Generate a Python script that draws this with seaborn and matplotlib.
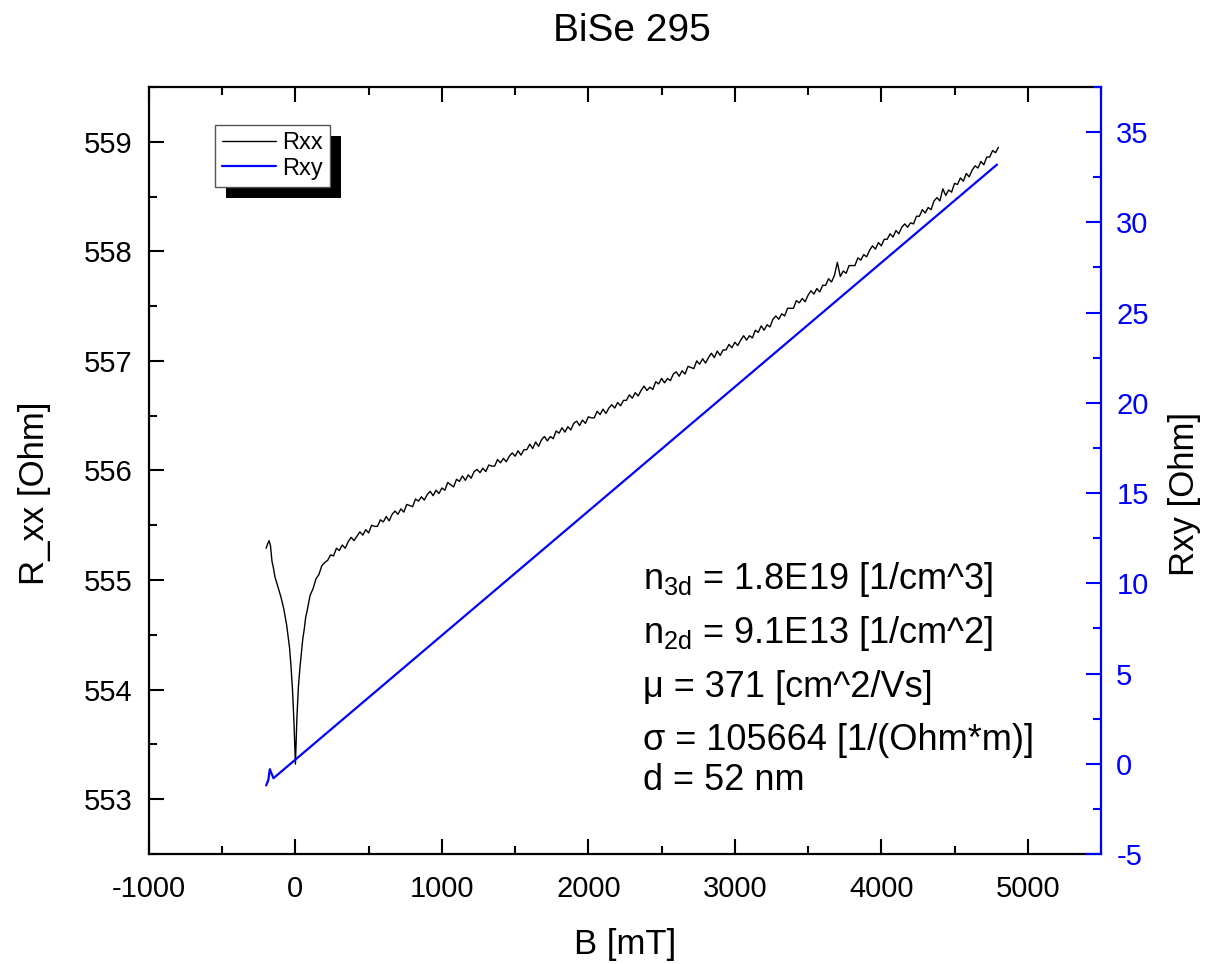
import matplotlib
matplotlib.use("Agg")
import matplotlib.pyplot as plt
from matplotlib.patches import Rectangle
from matplotlib.ticker import MultipleLocator
import seaborn as sns
import pandas as pd

# Longitudinal resistance sweep: field (mT) and R_xx (Ohm)
field_xx = [
    -200, -190, -180, -170, -160, -150, -140, -120, -100, -80, -60, -40, -30,
    -20, -10, 0, 10, 20, 30, 40, 50, 60, 70, 80, 100, 120, 140, 160, 180, 200,
    220, 240, 260, 280, 300, 320, 340, 360, 380, 400, 420, 440, 460, 480, 500,
    520, 540, 560, 580, 600, 620, 640, 660, 680, 700, 720, 740, 760, 780, 800,
    820, 840, 860, 880, 900, 920, 940, 960, 980, 1000, 1020, 1040, 1060, 1080,
    1100, 1120, 1140, 1160, 1180, 1200, 1220, 1240, 1260, 1280, 1300, 1320,
    1340, 1360, 1380, 1400, 1420, 1440, 1460, 1480, 1500, 1520, 1540, 1560,
    1580, 1600, 1620, 1640, 1660, 1680, 1700, 1720, 1740, 1760, 1780, 1800,
    1820, 1840, 1860, 1880, 1900, 1920, 1940, 1960, 1980, 2000, 2020, 2040,
    2060, 2080, 2100, 2120, 2140, 2160, 2180, 2200, 2220, 2240, 2260, 2280,
    2300, 2320, 2340, 2360, 2380, 2400, 2420, 2440, 2460, 2480, 2500, 2520,
    2540, 2560, 2580, 2600, 2620, 2640, 2660, 2680, 2700, 2720, 2740, 2760,
    2780, 2800, 2820, 2840, 2860, 2880, 2900, 2920, 2940, 2960, 2980, 3000,
    3020, 3040, 3060, 3080, 3100, 3120, 3140, 3160, 3180, 3200, 3220, 3240,
    3260, 3280, 3300, 3320, 3340, 3360, 3380, 3400, 3420, 3440, 3460, 3480,
    3500, 3520, 3540, 3560, 3580, 3600, 3620, 3640, 3660, 3680, 3700, 3720,
    3740, 3760, 3780, 3800, 3820, 3840, 3860, 3880, 3900, 3920, 3940, 3960,
    3980, 4000, 4020, 4040, 4060, 4080, 4100, 4120, 4140, 4160, 4180, 4200,
    4220, 4240, 4260, 4280, 4300, 4320, 4340, 4360, 4380, 4400, 4420, 4440,
    4460, 4480, 4500, 4520, 4540, 4560, 4580, 4600, 4620, 4640, 4660, 4680,
    4700, 4720, 4740, 4760, 4780, 4800,
]
rxx = [
    555.29, 555.33, 555.36, 555.31, 555.17, 555.11, 555.03, 554.94, 554.85,
    554.74, 554.59, 554.38, 554.21, 554.00, 553.70, 553.32, 553.74, 554.02,
    554.19, 554.33, 554.46, 554.55, 554.66, 554.72, 554.86, 554.92, 555.01,
    555.05, 555.13, 555.16, 555.18,
    555.23, 555.22, 555.29, 555.27, 555.32, 555.29, 555.35, 555.39, 555.36,
    555.40, 555.44, 555.41, 555.46, 555.43, 555.50, 555.49, 555.49, 555.55,
    555.53, 555.58, 555.54, 555.60, 555.63, 555.60, 555.65, 555.62, 555.69,
    555.68, 555.67, 555.74, 555.72, 555.76, 555.73, 555.78, 555.81, 555.77,
    555.82, 555.79, 555.84, 555.82, 555.89, 555.87, 555.85, 555.92, 555.90,
    555.95, 555.91, 555.96, 555.93, 555.99, 556.01, 555.98, 556.02, 555.99,
    556.05, 556.04, 556.04, 556.10, 556.07, 556.11, 556.08, 556.13, 556.16,
    556.13, 556.18, 556.14, 556.19, 556.19, 556.24, 556.20, 556.26, 556.22,
    556.28, 556.31, 556.27, 556.31, 556.29, 556.36, 556.34, 556.39, 556.35,
    556.40, 556.37, 556.43, 556.45, 556.41, 556.46, 556.43, 556.49, 556.48,
    556.48, 556.54, 556.51, 556.56, 556.52, 556.57, 556.60, 556.57, 556.62,
    556.59, 556.64, 556.64, 556.69, 556.66, 556.71, 556.68, 556.73, 556.77,
    556.73, 556.76, 556.74, 556.81, 556.79, 556.84, 556.80, 556.84, 556.82,
    556.88, 556.90, 556.86, 556.91, 556.88, 556.95, 556.94, 556.93, 557.00,
    556.97, 557.02, 556.98, 557.03, 557.07, 557.03, 557.09, 557.05, 557.10,
    557.10, 557.15, 557.12, 557.17, 557.14, 557.19, 557.23, 557.19, 557.23,
    557.21, 557.28, 557.26, 557.32, 557.28, 557.33, 557.31, 557.38, 557.41,
    557.38, 557.43, 557.41, 557.48, 557.48, 557.48, 557.55, 557.53, 557.57,
    557.54, 557.60, 557.64, 557.61, 557.66, 557.63, 557.69, 557.69, 557.75,
    557.72, 557.78, 557.90, 557.77, 557.82, 557.80, 557.87, 557.87, 557.87,
    557.94, 557.92, 557.97, 557.95, 558.01, 558.05, 558.02, 558.08, 558.05,
    558.11, 558.11, 558.16, 558.13, 558.19, 558.16, 558.22, 558.25, 558.22,
    558.26, 558.25, 558.32, 558.32, 558.38, 558.35, 558.40, 558.38, 558.46,
    558.49, 558.46, 558.57, 558.51, 558.56, 558.54, 558.62, 558.61, 558.67,
    558.64, 558.71, 558.68, 558.74, 558.78, 558.76, 558.82, 558.79, 558.86,
    558.86, 558.92, 558.90, 558.95,
]

# Hall resistance sweep: field (mT) and R_xy (Ohm)
field_xy = [-200, -185, -175, -150, 4790]
rxy = [-1.2, -0.9, -0.3, -0.8, 33.2]

title = "BiSe 295"
x_label = "B [mT]"
y_label_left = "R_xx [Ohm]"
y_label_right = "Rxy [Ohm]"
series_names = ["Rxx", "Rxy"]
fit_lines = [
    r"n$_{\mathrm{3d}}$ = 1.8E19 [1/cm^3]",
    r"n$_{\mathrm{2d}}$ = 9.1E13 [1/cm^2]",
    "\u03bc = 371 [cm^2/Vs]",
    "\u03c3 = 105664 [1/(Ohm*m)]",
    "d = 52 nm",
]

sns.set_style("ticks")
plt.rcParams["font.family"] = ["Liberation Sans", "DejaVu Sans"]
plt.rcParams["mathtext.fontset"] = "custom"
plt.rcParams["mathtext.rm"] = "Liberation Sans"
plt.rcParams["mathtext.it"] = "Liberation Sans:italic"
plt.rcParams["mathtext.bf"] = "Liberation Sans:bold"
plt.rcParams["axes.unicode_minus"] = False
for key in ["text.color", "axes.labelcolor", "xtick.color", "ytick.color"]:
    plt.rcParams[key] = "black"

BLUE = "#0000ff"
fig = plt.figure(figsize=(12.19, 9.64), dpi=100)
ax = fig.add_axes([0.1222, 0.1141, 0.7810, 0.7957])
ax2 = ax.twinx()

df_xx = pd.DataFrame({"B": field_xx, "R": rxx})
df_xy = pd.DataFrame({"B": field_xy, "R": rxy})
sns.lineplot(data=df_xx, x="B", y="R", ax=ax, color="black", lw=1.0,
             estimator=None, sort=False, legend=False)
sns.lineplot(data=df_xy, x="B", y="R", ax=ax2, color=BLUE, lw=1.6,
             estimator=None, sort=False, legend=False)

ax.set_xlim(-1000, 5500)
ax.set_ylim(552.5, 559.5)
ax2.set_ylim(-5, 37.5)

ax.xaxis.set_major_locator(MultipleLocator(1000))
ax.xaxis.set_minor_locator(MultipleLocator(500))
ax.yaxis.set_major_locator(MultipleLocator(1))
ax.yaxis.set_minor_locator(MultipleLocator(0.5))
ax2.yaxis.set_major_locator(MultipleLocator(5))
ax2.yaxis.set_minor_locator(MultipleLocator(2.5))
ax.set_yticks([553, 554, 555, 556, 557, 558, 559])

for s in ["left", "top", "bottom"]:
    ax.spines[s].set_linewidth(1.6)
    ax.spines[s].set_color("black")
ax.spines["right"].set_visible(False)
for s in ["left", "top", "bottom"]:
    ax2.spines[s].set_visible(False)
ax2.spines["right"].set_color(BLUE)
ax2.spines["right"].set_linewidth(1.6)

ax.tick_params(axis="x", which="both", direction="in", top=True, bottom=True,
               width=1.5, labelsize=21, pad=15, colors="black")
ax.tick_params(axis="x", which="major", length=11)
ax.tick_params(axis="x", which="minor", length=5.5)
ax.tick_params(axis="y", which="both", direction="in", left=True, right=False,
               width=1.5, labelsize=21, pad=12, colors="black")
ax.tick_params(axis="y", which="major", length=11)
ax.tick_params(axis="y", which="minor", length=5.5)
ax2.tick_params(axis="y", which="both", direction="in", right=True, left=False,
                width=1.5, labelsize=21, pad=11, colors=BLUE)
ax2.tick_params(axis="y", which="major", length=11)
ax2.tick_params(axis="y", which="minor", length=5.5)

ax.set_xlabel(x_label, fontsize=25)
ax.set_ylabel(y_label_left, fontsize=25)
ax2.set_ylabel(y_label_right, fontsize=25, color="black")
ax.xaxis.set_label_coords(0.5, -0.096)
ax.yaxis.set_label_coords(-0.1025, 0.47)
ax2.yaxis.set_label_coords(1.070, 0.47)

fig.suptitle(title, fontsize=28, y=0.9865, x=0.5185)

# Fit results
baselines = [0.345, 0.275, 0.205, 0.135, 0.083]
for line, yb in zip(fit_lines, baselines):
    ax2.text(0.519, yb, line, transform=ax2.transAxes, fontsize=26,
             ha="left", va="baseline", color="black")

# Legend with a solid drop shadow
handles = ax.get_lines()[:1] + ax2.get_lines()[:1]
leg = ax2.legend(handles, series_names, loc="upper left",
                 bbox_to_anchor=(0.0693, 0.9505), borderaxespad=0,
                 fontsize=17, frameon=True, fancybox=False, shadow=False,
                 framealpha=1.0, handlelength=2.3, handletextpad=0.25,
                 borderpad=0.3, labelspacing=0.15)
leg.get_frame().set_facecolor("white")
leg.get_frame().set_edgecolor("#555555")
leg.get_frame().set_linewidth(1.0)
leg.set_zorder(6)

fig.canvas.draw()
bb = leg.get_window_extent().transformed(ax2.transAxes.inverted())
shadow = Rectangle((bb.x0 + 11 / 952, bb.y0 - 11 / 767), bb.width, bb.height,
                   transform=ax2.transAxes, facecolor="black", edgecolor="none",
                   zorder=5)
ax2.add_artist(shadow)

fig.savefig("out.png", dpi=100)
